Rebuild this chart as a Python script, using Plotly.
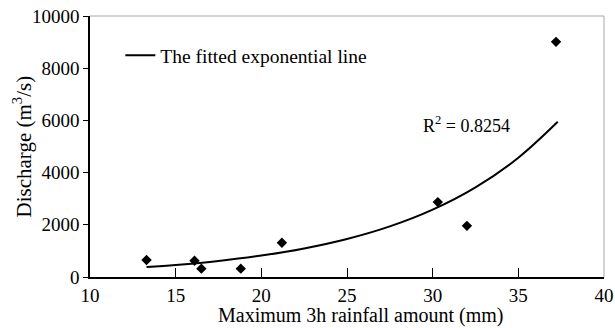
import plotly.graph_objects as go

# Observed points
rain_mm = [13.3, 16.1, 16.5, 18.8, 21.2, 30.3, 32.0, 37.2]
discharge = [650, 620, 320, 320, 1310, 2870, 1960, 9010]

# Fitted exponential line
fit_x = [13.3, 15, 17.5, 20, 22.5, 25, 27.5, 30, 32.5, 35, 37.3]
fit_y = [382, 464, 617, 822, 1094, 1456, 1938, 2581, 3434, 4571, 5947]

x_ticks = [10, 15, 20, 25, 30, 35, 40]
y_ticks = [0, 2000, 4000, 6000, 8000, 10000]
y_tick_labels = ["0", "2000", "4000", "6000", "8000", "10000"]

FONT = "Liberation Serif, Times New Roman, serif"
FS = 19

fig = go.Figure()
fig.add_trace(go.Scatter(
    x=fit_x, y=fit_y, mode="lines", line=dict(color="black", width=2, shape="spline"),
    name="The fitted exponential line", showlegend=True))
fig.add_trace(go.Scatter(
    x=rain_mm, y=discharge, mode="markers",
    marker=dict(symbol="diamond", size=8, color="black"), showlegend=False))

# grey top/right frame
fig.add_shape(type="line", xref="paper", yref="paper", x0=0, x1=1, y0=1, y1=1,
              line=dict(color="#a8a8a8", width=1))
fig.add_shape(type="line", xref="paper", yref="paper", x0=1, x1=1, y0=0, y1=1,
              line=dict(color="#a8a8a8", width=1))

fig.add_annotation(x=32.0, y=5850, xref="x", yref="y", text="R<sup>2</sup> = 0.8254",
                   showarrow=False, font=dict(family=FONT, size=18, color="black"))

# axis titles
fig.add_annotation(x=0.527, y=-0.149, xref="paper", yref="paper",
                   text="Maximum 3h rainfall amount (mm)", showarrow=False,
                   xanchor="center", yanchor="middle",
                   font=dict(family=FONT, size=20, color="black"))
fig.add_annotation(x=-0.1304, y=0.50, xref="paper", yref="paper",
                   text="Discharge (m<sup>3</sup>/s)", showarrow=False, textangle=-90,
                   xanchor="center", yanchor="middle",
                   font=dict(family=FONT, size=21, color="black"))

fig.update_layout(
    width=615, height=328,
    margin=dict(l=90, r=11, t=16, b=51),
    paper_bgcolor="white", plot_bgcolor="white",
    font=dict(family=FONT, size=FS, color="black"),
    legend=dict(x=0.059, y=0.848, xanchor="left", yanchor="middle",
                bgcolor="rgba(0,0,0,0)", font=dict(family=FONT, size=19.5)),
    xaxis=dict(range=[10, 40], tickvals=x_ticks, ticks="inside", ticklen=9, tickcolor="black",
               tickfont=dict(family=FONT, size=FS), automargin=False,
               showline=True, linecolor="black", linewidth=1.5, showgrid=False, zeroline=False),
    yaxis=dict(range=[0, 10000], tickvals=y_ticks, ticktext=y_tick_labels,
               ticks="outside", ticklen=5, tickcolor="black",
               tickfont=dict(family=FONT, size=FS), automargin=False,
               showline=True, linecolor="black", linewidth=1.5, showgrid=False, zeroline=False),
)

fig.write_html("out.html", config={"displayModeBar": False},
               post_script="document.body.style.margin='0';")
